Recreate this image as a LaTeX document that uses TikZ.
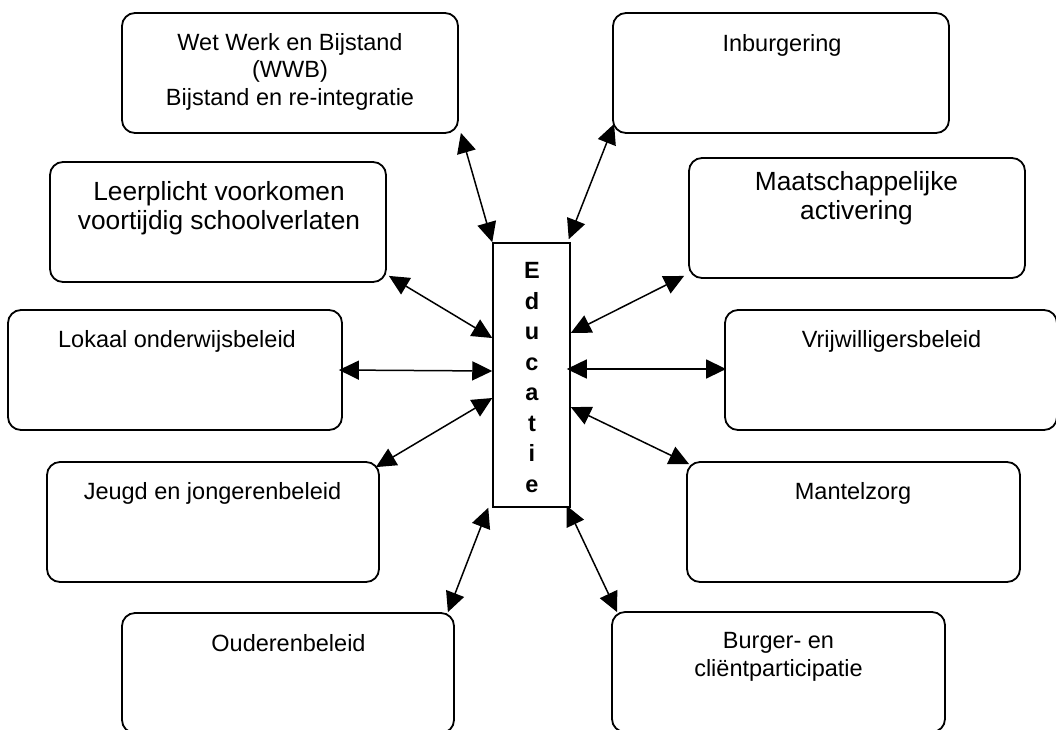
\documentclass[tikz,border=0pt]{standalone}
\usepackage{fontspec}
\setmainfont{Liberation Sans}
\usetikzlibrary{arrows.meta,calc}
\begin{document}
\begin{tikzpicture}[x=1pt,y=-1pt,
  box/.style={draw,line width=1.8pt,rounded corners=13pt,inner sep=0pt,minimum height=120pt},
  edubox/.style={draw,line width=1.5pt,inner sep=0pt},
  txt/.style={inner sep=0pt,anchor=base,align=center,font=\fontsize{23.5}{27.5}\selectfont},
  bigtxt/.style={inner sep=0pt,anchor=base,align=center,font=\fontsize{26.3}{29}\selectfont},
  edutxt/.style={inner sep=0pt,anchor=base,align=center,font=\fontsize{23.5}{30.5}\selectfont\bfseries},
  link/.style={line width=1.5pt,{Triangle[length=20pt,width=19pt]}-{Triangle[length=20pt,width=19pt]}}]
\useasboundingbox (0,0) rectangle (1056,729);
\clip (0,0) rectangle (1056,729);
\fill[white] (0,0) rectangle (1056,729);

% boxes
\node[box,minimum width=336pt] (wwb) at (290,73) {};
\node[box,minimum width=336pt] (inb) at (781,73) {};
\node[box,minimum width=336pt] (leer) at (218,222) {};
\node[box,minimum width=336pt] (maat) at (857,218) {};
\node[box,minimum width=334pt] (lok) at (175,370) {};
\node[box,minimum width=332pt] (vrij) at (891,370) {};
\node[box,minimum width=332pt] (jeu) at (213,522) {};
\node[box,minimum width=333pt] (mant) at (853.5,522) {};
\node[box,minimum width=332pt] (oud) at (288,673) {};
\node[box,minimum width=333pt] (bur) at (778.5,672) {};
\node[edubox,minimum width=77pt,minimum height=264pt] (edu) at (531.5,375) {};

% texts (anchor base = baseline of the last line)
\node[txt] (twwb) at (290,105) {Wet Werk en Bijstand\\(WWB)\\Bijstand en re-integratie};
\node[txt] (tinb) at (782,51) {Inburgering};
\node[bigtxt] (tleer) at (219,229) {Leerplicht voorkomen\\voortijdig schoolverlaten};
\node[bigtxt] (tmaat) at (856.5,219) {Maatschappelijke\\activering};
\node[txt] (tlok) at (177,347) {Lokaal onderwijsbeleid};
\node[txt] (tvrij) at (891.5,347) {Vrijwilligersbeleid};
\node[txt] (tjeu) at (212.5,499) {Jeugd en jongerenbeleid};
\node[txt] (tmant) at (853,499) {Mantelzorg};
\node[txt] (toud) at (288.5,651) {Ouderenbeleid};
\node[txt] (tbur) at (778.5,676) {Burger- en\\cliëntparticipatie};
\node[edutxt] (tedu) at (532,492) {E\\d\\u\\c\\a\\t\\i\\e};

% connectors
\draw[link] ($(wwb.south east)+(2,-1)$) -- (edu.north west);
\draw[link] ($(inb.south west)+(2,-10)$) -- ($(edu.north east)+(-2,-3)$);
\draw[link] ($(leer.south east)+(2,-7)$) -- ($(edu.west)+(0,-37)$);
\draw[link] ($(lok.east)+(-4,0)$) -- ($(edu.west)+(0,-4)$);
\draw[link] ($(jeu.north east)+(-4,6)$) -- ($(edu.west)+(0,23)$);
\draw[link] ($(oud.north east)+(-7,0)$) -- ($(edu.south west)+(-4,0)$);
\draw[link] ($(maat.south west)+(-4,-3)$) -- ($(edu.east)+(0,-42)$);
\draw[link] ($(vrij.west)+(2,-1)$) -- ($(edu.east)+(-4,-6)$);
\draw[link] ($(mant.north west)+(3,3)$) -- ($(edu.east)+(0,32)$);
\draw[link] ($(bur.north west)+(6,1)$) -- ($(edu.south east)+(-4,-2)$);
\end{tikzpicture}
\end{document}
